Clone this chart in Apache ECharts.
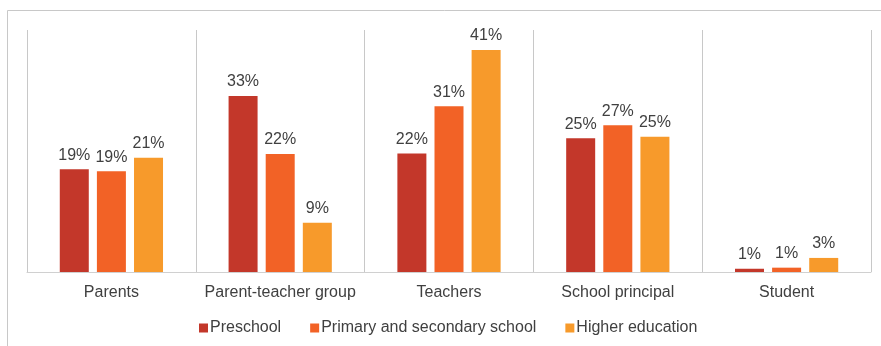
<!DOCTYPE html>
<html>
<head>
<meta charset="utf-8">
<script src="https://cdn.jsdelivr.net/npm/echarts@6/dist/echarts.min.js"></script>
<style>
html,body{margin:0;padding:0;background:#fff;}
#chart{width:881px;height:346px;}
</style>
</head>
<body>
<div id="chart"></div>
<script>
const categories = ['Parents', 'Parent-teacher group', 'Teachers', 'School principal', 'Student'];
const seriesNames = ['Preschool', 'Primary and secondary school', 'Higher education'];
const preschool = [19.0, 32.5, 21.9, 24.7, 0.6];
const primarySecondary = [18.6, 21.8, 30.6, 27.1, 0.8];
const higherEducation = [21.1, 9.1, 41.0, 25.0, 2.6];
const colors = ['#C3372A', '#F26226', '#F79A2B'];

const chart = echarts.init(document.getElementById('chart'), null, {renderer: 'canvas'});
const font = 'Liberation Sans, Arial, sans-serif';
const mk = (name, data, color) => ({
  name: name,
  type: 'bar',
  data: data,
  barWidth: 29,
  barGap: '28%',
  itemStyle: {color: color},
  label: {
    show: true,
    position: 'top',
    distance: 6,
    color: '#404040',
    fontFamily: font,
    fontSize: 16,
    formatter: p => Math.round(p.value) + '%'
  }
});
chart.setOption({
  animation: false,
  backgroundColor: '#fff',
  graphic: [{
    type: 'rect',
    shape: {x: 7.5, y: 10.5, width: 900, height: 400},
    style: {fill: 'none', stroke: '#c8c8c8', lineWidth: 1},
    z: -1
  }],
  grid: {left: 27, right: 10, top: 30, bottom: 74},
  legend: {
    left: 194,
    top: 315,
    itemWidth: 9,
    itemHeight: 9,
    itemGap: 29,
    icon: 'rect',
    textStyle: {color: '#404040', fontFamily: font, fontSize: 16, padding: [0, 0, 0, -3]},
    data: seriesNames
  },
  xAxis: {
    type: 'category',
    data: categories,
    axisLine: {show: true, lineStyle: {color: '#d0d0d0', width: 1}},
    axisTick: {show: false},
    splitLine: {show: true, interval: 0, lineStyle: {color: '#c8c8c8', width: 1}},
    axisLabel: {interval: 0, color: '#404040', fontFamily: font, fontSize: 16, margin: 13}
  },
  yAxis: {
    type: 'value',
    min: 0,
    max: 44.7,
    show: false,
    splitLine: {show: false}
  },
  series: [
    mk(seriesNames[0], preschool, colors[0]),
    mk(seriesNames[1], primarySecondary, colors[1]),
    mk(seriesNames[2], higherEducation, colors[2])
  ]
});
</script>
</body>
</html>
